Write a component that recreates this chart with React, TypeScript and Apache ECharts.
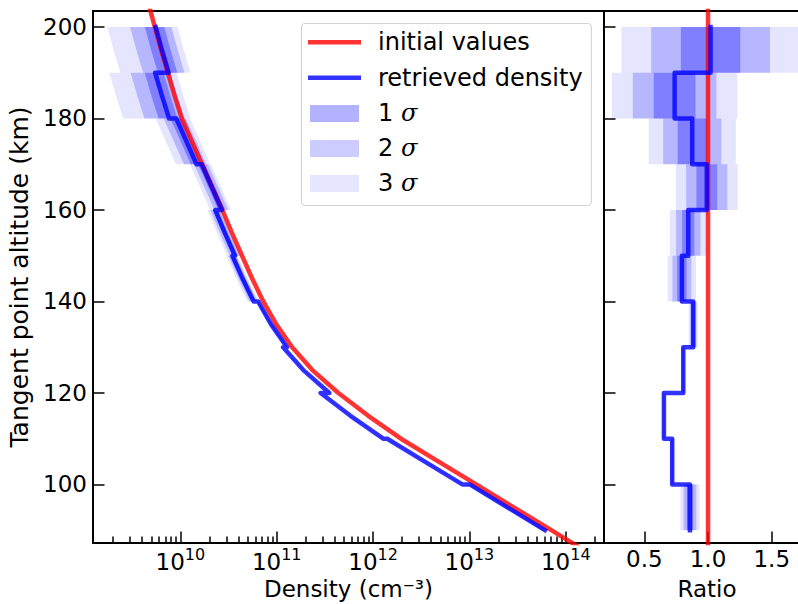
import React, { useEffect, useRef } from "react";
import * as echarts from "echarts";

// ---------- data ----------
// altitude grid (km) on which the initial density profile was read
const altitudeGrid = [86, 90, 95, 100, 105, 110, 115, 120, 125, 130, 135, 140, 145, 150, 155, 160, 165, 170, 175, 180, 185, 190, 195, 200, 205];
// log10 of the initial density (cm^-3) at those altitudes
const initialLogDensity = [14.16, 13.85, 13.46, 13.07, 12.68, 12.29, 11.95, 11.64, 11.37, 11.16, 10.995, 10.86, 10.745, 10.64, 10.535, 10.435, 10.33, 10.225, 10.12, 10.015, 9.94, 9.87, 9.8, 9.735, 9.67];

// retrieval layers (km)
const layerBottom = [90, 100, 110, 120, 130, 140, 150, 160, 170, 180, 190];
const layerTop = [100, 110, 120, 130, 140, 150, 160, 170, 180, 190, 200];
// retrieved / initial ratio per layer and its 1-sigma uncertainty
const ratio = [0.858, 0.719, 0.654, 0.806, 0.884, 0.795, 0.845, 0.99, 0.876, 0.738, 1.02];
const sigma = [0.025, 0.004, 0.003, 0.004, 0.012, 0.037, 0.048, 0.081, 0.114, 0.164, 0.233];
const initialRatio = 1.0;

const sigmaLevels = [3, 2, 1];
const sigmaAlpha = [0.1, 0.2, 0.3];
const legendLabels = ["initial values", "retrieved density"];

// axes
const densityMin = Math.pow(10, 9.093);
const densityMax = Math.pow(10, 14.397);
const densityMajorTicks = [1e10, 1e11, 1e12, 1e13, 1e14];
const minorMultipliers = [2, 3, 4, 5, 6, 7, 8, 9];
const minorDecades = [9, 10, 11, 12, 13, 14];
const altMin = 87.2;
const altMax = 203.5;
const altitudeTicks = [100, 120, 140, 160, 180, 200];
const ratioMin = 0.184;
const ratioMax = 1.8;
const ratioTicks = [0.5, 1.0, 1.5];

const FONT = "DejaVu Sans";
const RED = "rgba(255,0,0,0.8)";
const BLUE = "rgba(0,0,255,0.8)";

const densityMinorTicks: number[] = [];
minorDecades.forEach((d) =>
  minorMultipliers.forEach((m) => {
    const v = m * Math.pow(10, d);
    if (v > densityMin && v < densityMax) densityMinorTicks.push(v);
  })
);

function initialAt(h: number) {
  return Math.pow(10, initialLogDensity[altitudeGrid.indexOf(h)]);
}
function layerAlts(i: number) {
  return altitudeGrid.filter((h) => h >= layerBottom[i] && h <= layerTop[i]);
}

const initialLine = altitudeGrid.map((h, j) => [Math.pow(10, initialLogDensity[j]), h]);
const retrievedLine: number[][] = [];
layerBottom.forEach((_, i) => layerAlts(i).forEach((h) => retrievedLine.push([initialAt(h) * ratio[i], h])));
const ratioLine: number[][] = [];
layerBottom.forEach((b, i) => {
  ratioLine.push([ratio[i], b]);
  ratioLine.push([ratio[i], layerTop[i]]);
});
const initialRatioLine = [
  [initialRatio, altitudeGrid[0]],
  [initialRatio, altitudeGrid[altitudeGrid.length - 1]],
];

const bandItems: number[][] = [];
sigmaLevels.forEach((_, li) => layerBottom.forEach((__, i) => bandItems.push([1e12, 150, i, li])));
const ratioBandItems: number[][] = [];
sigmaLevels.forEach((_, li) => layerBottom.forEach((__, i) => ratioBandItems.push([1, 150, i, li])));

export default function App() {
  const ref = useRef<HTMLDivElement>(null);
  useEffect(() => {
    document.body.style.margin = "0";
    document.body.style.overflow = "hidden";
    document.documentElement.style.overflow = "hidden";
    const chart = echarts.init(ref.current!, null, { renderer: "svg" });
    const tickStyle = { color: "#000", width: 1.5 };
    const axisLine = { show: true, lineStyle: { color: "#000", width: 2 } };
    const option: any = {
      animation: false,
      textStyle: { fontFamily: FONT, color: "#000" },
      grid: [
        { left: 93, top: 11, width: 511, height: 532, outerBoundsMode: "none", containLabel: false, show: true, borderColor: "#000", borderWidth: 2, backgroundColor: "transparent" },
        { left: 604, top: 11, width: 206, height: 532, outerBoundsMode: "none", containLabel: false, show: true, borderColor: "#000", borderWidth: 2, backgroundColor: "transparent" },
      ],
      xAxis: [
        {
          type: "log",
          logBase: 10,
          gridIndex: 0,
          min: densityMin,
          max: densityMax,
          position: "bottom",
          axisLine,
          axisTick: { show: true, inside: true, length: 11.5, lineStyle: tickStyle, customValues: densityMajorTicks },
          minorTick: { show: false },
          splitLine: { show: false },
          axisLabel: {
            show: true,
            margin: 3,
            customValues: densityMajorTicks,
            formatter: (v: number) => `{b|10}{s|${Math.round(Math.log10(v))}}`,
            rich: {
              b: { fontSize: 23, fontFamily: FONT, color: "#000" },
              s: { fontSize: 16, fontFamily: FONT, color: "#000", padding: [0, 0, 15, 0] },
            },
          },
          name: "Density (cm⁻³)",
          nameLocation: "middle",
          nameGap: 31,
          nameTextStyle: { fontSize: 23, fontFamily: FONT, color: "#000" },
        },
        {
          type: "log",
          logBase: 10,
          gridIndex: 0,
          min: densityMin,
          max: densityMax,
          position: "bottom",
          axisLine: { show: false },
          axisTick: { show: true, inside: true, length: 6.5, lineStyle: tickStyle, customValues: densityMinorTicks },
          axisLabel: { show: false },
          splitLine: { show: false },
        },
        {
          type: "value",
          gridIndex: 1,
          min: ratioMin,
          max: ratioMax,
          position: "bottom",
          axisLine,
          axisTick: { show: true, inside: true, length: 11.5, lineStyle: tickStyle, customValues: ratioTicks },
          splitLine: { show: false },
          axisLabel: {
            show: true,
            margin: 4,
            customValues: ratioTicks,
            formatter: (v: number) => v.toFixed(1),
            fontSize: 23,
            color: "#000",
          },
          name: "Ratio",
          nameLocation: "middle",
          nameGap: 34,
          nameTextStyle: { fontSize: 23, fontFamily: FONT, color: "#000" },
        },
      ],
      yAxis: [
        {
          type: "value",
          gridIndex: 0,
          min: altMin,
          max: altMax,
          axisLine,
          axisTick: { show: true, inside: true, length: 11.5, lineStyle: tickStyle, customValues: altitudeTicks },
          splitLine: { show: false },
          axisLabel: { show: true, margin: 6, customValues: altitudeTicks, fontSize: 23, color: "#000" },
          name: "Tangent point altitude (km)",
          nameLocation: "middle",
          nameRotate: 90,
          nameGap: 49,
          nameTextStyle: { fontSize: 25, fontFamily: FONT, color: "#000" },
        },
        {
          type: "value",
          gridIndex: 1,
          min: altMin,
          max: altMax,
          axisLine,
          axisTick: { show: true, inside: true, length: 11.5, lineStyle: tickStyle, customValues: altitudeTicks },
          splitLine: { show: false },
          axisLabel: { show: false },
        },
      ],
      series: [
        {
          type: "custom",
          xAxisIndex: 0,
          yAxisIndex: 0,
          silent: true,
          z: 1,
          encode: { x: 0, y: 1 },
          data: bandItems,
          renderItem: (params: any, api: any) => {
            const i = api.value(2);
            const li = api.value(3);
            const k = sigmaLevels[li];
            const lo = ratio[i] - k * sigma[i];
            const hi = ratio[i] + k * sigma[i];
            const hs = layerAlts(i);
            const pts: number[][] = [];
            hs.forEach((h) => pts.push(api.coord([initialAt(h) * lo, h])));
            hs.slice().reverse().forEach((h) => pts.push(api.coord([initialAt(h) * hi, h])));
            return { type: "polygon", shape: { points: pts }, style: { fill: `rgba(0,0,255,${sigmaAlpha[li]})` } };
          },
        },
        {
          type: "custom",
          xAxisIndex: 2,
          yAxisIndex: 1,
          silent: true,
          z: 1,
          encode: { x: 0, y: 1 },
          data: ratioBandItems,
          renderItem: (params: any, api: any) => {
            const i = api.value(2);
            const li = api.value(3);
            const k = sigmaLevels[li];
            const p1 = api.coord([ratio[i] - k * sigma[i], layerTop[i]]);
            const p2 = api.coord([ratio[i] + k * sigma[i], layerBottom[i]]);
            return {
              type: "rect",
              shape: { x: p1[0], y: p1[1], width: p2[0] - p1[0], height: p2[1] - p1[1] },
              style: { fill: `rgba(0,0,255,${sigmaAlpha[li]})` },
            };
          },
        },
        {
          type: "line",
          name: legendLabels[0],
          xAxisIndex: 0,
          yAxisIndex: 0,
          data: initialLine,
          symbol: "none",
          z: 3,
          lineStyle: { color: RED, width: 4.5, join: "round" },
        },
        {
          type: "line",
          name: legendLabels[0],
          xAxisIndex: 2,
          yAxisIndex: 1,
          data: initialRatioLine,
          symbol: "none",
          z: 3,
          lineStyle: { color: RED, width: 4.5 },
        },
        {
          type: "line",
          name: legendLabels[1],
          xAxisIndex: 0,
          yAxisIndex: 0,
          data: retrievedLine,
          symbol: "none",
          z: 4,
          lineStyle: { color: BLUE, width: 4.5, join: "round", cap: "square" },
        },
        {
          type: "line",
          name: legendLabels[1],
          xAxisIndex: 2,
          yAxisIndex: 1,
          data: ratioLine,
          symbol: "none",
          z: 4,
          lineStyle: { color: BLUE, width: 4.5, join: "round", cap: "square" },
        },
      ],
      graphic: [
        {
          type: "rect",
          z: 100,
          shape: { x: 301.5, y: 23.5, width: 290, height: 182, r: 4 },
          style: { fill: "rgba(255,255,255,0.8)", stroke: "#d4d4d4", lineWidth: 1.2 },
        },
        { type: "line", z: 101, shape: { x1: 308, y1: 42.3, x2: 361, y2: 42.3 }, style: { stroke: RED, lineWidth: 4.5 } },
        { type: "line", z: 101, shape: { x1: 308, y1: 77.7, x2: 361, y2: 77.7 }, style: { stroke: BLUE, lineWidth: 4.5 } },
        { type: "rect", z: 101, shape: { x: 310, y: 105, width: 49, height: 17 }, style: { fill: `rgba(0,0,255,${sigmaAlpha[2]})` } },
        { type: "rect", z: 101, shape: { x: 310, y: 140, width: 49, height: 17 }, style: { fill: `rgba(0,0,255,${sigmaAlpha[1]})` } },
        { type: "rect", z: 101, shape: { x: 310, y: 175, width: 49, height: 17 }, style: { fill: `rgba(0,0,255,${sigmaAlpha[0]})` } },
        ...[legendLabels[0], legendLabels[1]].map((t, j) => ({
          type: "text",
          z: 102,
          x: 378,
          y: [42, 78][j],
          style: { text: t, fontSize: 24, fontFamily: FONT, fill: "#000", verticalAlign: "middle", textVerticalAlign: "middle" },
        })),
        ...[1, 2, 3].map((n, j) => ({
          type: "text",
          z: 102,
          x: 378,
          y: [113, 148, 183][j],
          style: {
            text: `${n} {s|σ}`,
            fontSize: 24,
            fontFamily: FONT,
            fill: "#000",
            verticalAlign: "middle",
            textVerticalAlign: "middle",
            rich: { s: { fontSize: 24, fontFamily: "DejaVu Serif", fontStyle: "italic", fill: "#000" } },
          },
        })),
      ],
    };
    chart.setOption(option);
    return () => chart.dispose();
  }, []);
  return <div ref={ref} style={{ width: 812, height: 604 }} />;
}
